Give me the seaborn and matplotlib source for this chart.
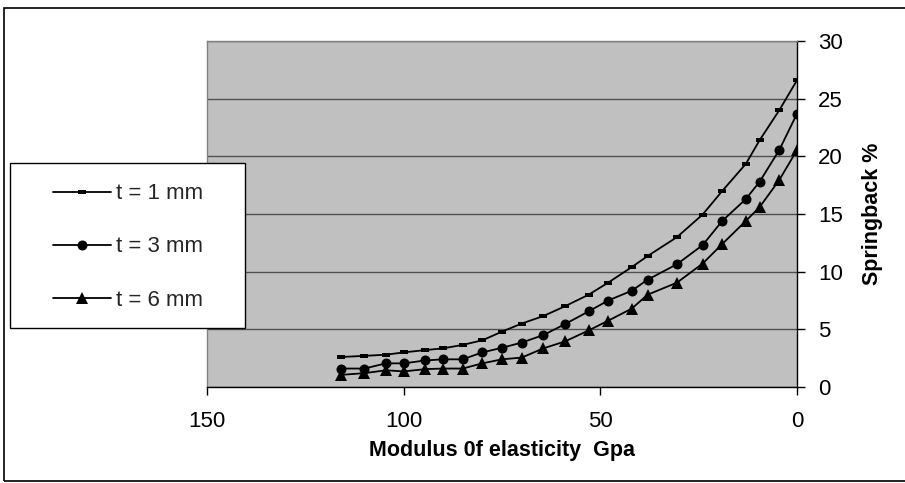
import matplotlib
matplotlib.use("Agg")
import matplotlib.pyplot as plt
import seaborn as sns
import pandas as pd
from matplotlib.patches import Rectangle

# ---- data ----
modulus = [116, 110, 104.5, 100, 94.5, 90, 85, 80, 75, 70, 64.5, 59, 53, 48,
           42, 38, 30.5, 24, 19, 13, 9.5, 4.5, 0]
t1_springback = [2.6, 2.7, 2.8, 3.0, 3.2, 3.35, 3.65, 4.05, 4.8, 5.5, 6.15, 7.0,
                 8.0, 9.05, 10.4, 11.35, 13.0, 14.95, 17.0, 19.35, 21.4, 24.0, 26.6]
t3_springback = [1.6, 1.6, 2.05, 2.05, 2.3, 2.4, 2.4, 3.0, 3.4, 3.85, 4.5, 5.45,
                 6.55, 7.5, 8.35, 9.3, 10.65, 12.3, 14.4, 16.3, 17.8, 20.55, 23.7]
t6_springback = [1.05, 1.2, 1.45, 1.35, 1.55, 1.6, 1.6, 2.05, 2.4, 2.55, 3.35, 3.95,
                 4.9, 5.75, 6.8, 8.0, 9.05, 10.7, 12.4, 14.4, 15.6, 17.95, 20.55]
series_labels = ["t = 1 mm", "t = 3 mm", "t = 6 mm"]
x_ticks = [150, 100, 50, 0]
y_ticks = [0, 5, 10, 15, 20, 25, 30]
x_label = "Modulus 0f elasticity  Gpa"
y_label = "Springback %"

sns.set_theme(style="white")
plt.rcParams["font.family"] = ["Liberation Sans", "DejaVu Sans"]

W, H = 905, 483
fig = plt.figure(figsize=(W / 100, H / 100), dpi=100)
fig.patch.set_facecolor("white")
ax = fig.add_axes([207 / W, 1 - 387 / H, 590 / W, 346 / H])
ax.set_facecolor("#C0C0C0")

dash_marker = [(-1, -0.42), (1, -0.42), (1, 0.42), (-1, 0.42), (-1, -0.42)]
markers = [dash_marker, "o", "^"]
msizes = [5.5, 7.2, 8.2]

for lab, ys, mk, ms in zip(series_labels,
                           [t1_springback, t3_springback, t6_springback],
                           markers, msizes):
    df = pd.DataFrame({"x": modulus, "y": ys})
    sns.lineplot(data=df, x="x", y="y", ax=ax, color="black", linewidth=1.3,
                 marker=mk, markersize=ms, markeredgewidth=0,
                 markerfacecolor="black", label=lab)

ax.set_xlim(150, 0)
ax.set_ylim(0, 30)
ax.set_xticks(x_ticks)
ax.set_yticks(y_ticks)
ax.yaxis.tick_right()
ax.yaxis.set_label_position("right")

ax.grid(axis="y", color="#505050", linewidth=1)
ax.grid(axis="x", visible=False)
ax.set_axisbelow(True)

for side in ["top", "left"]:
    ax.spines[side].set_color("#808080")
    ax.spines[side].set_linewidth(1)
for side in ["right", "bottom"]:
    ax.spines[side].set_color("black")
    ax.spines[side].set_linewidth(1)

ax.tick_params(axis="x", bottom=True, direction="out", length=6, width=1,
               color="black", pad=11, labelsize=16, labelcolor="black")
ax.tick_params(axis="y", left=False, right=True, direction="out", length=6,
               width=1, color="black", pad=9, labelsize=16, labelcolor="black")

ax.set_xlabel(x_label, fontsize=15.5, fontweight="bold", labelpad=6, color="black")
ax.set_ylabel(y_label, fontsize=15.5, fontweight="bold", labelpad=14, color="black")

handles, labels = ax.get_legend_handles_labels()
ax.get_legend().remove()

# legend box
fig.add_artist(Rectangle((10 / W, 1 - 328 / H), 235 / W, 165 / H,
                         transform=fig.transFigure, facecolor="white",
                         edgecolor="black", linewidth=1, zorder=3))
fig.legend(handles, labels, loc="center",
           bbox_to_anchor=(128 / W, 1 - 247 / H), frameon=False,
           fontsize=16, handlelength=2.6, handletextpad=0.25,
           labelspacing=1.45)

# outer chart border (right edge lies off-canvas)
fig.add_artist(Rectangle((4 / W, 1 - 481 / H), 1.0, 473 / H,
                         transform=fig.transFigure, fill=False,
                         edgecolor="black", linewidth=1.2, zorder=0,
                         clip_on=False))

fig.savefig("out.png", dpi=100)
